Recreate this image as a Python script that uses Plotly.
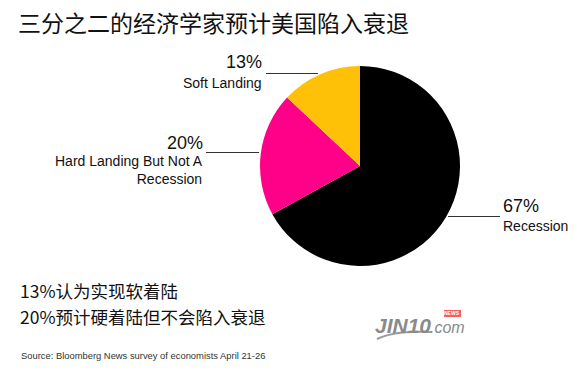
import plotly.graph_objects as go

W, H = 582, 379

categories = ["Recession", "Hard Landing But Not A Recession", "Soft Landing"]
values = [67, 20, 13]
colors = ["#000000", "#FF0088", "#FFC107"]

title_text = "三分之二的经济学家预计美国陷入衰退"
note_lines = ["13%认为实现软着陆", "20%预计硬着陆但不会陷入衰退"]
source_text = "Source: Bloomberg News survey of economists April 21-26"

def px(x):
    return x / W

def py(y):
    return 1 - y / H

fig = go.Figure(go.Pie(
    labels=categories, values=values, sort=False, direction="clockwise",
    rotation=0, marker=dict(colors=colors, line=dict(width=0)),
    textinfo="none", hoverinfo="none", showlegend=False,
    domain=dict(x=[px(260), px(460)], y=[py(266), py(66)]),
))

lab_font = "Liberation Sans, Arial, sans-serif"
cjk_font = "Noto Sans CJK SC"
ann = []

def add(text, x, y, size, xanchor="left", color="#111111", family=lab_font, yanchor="middle", align="left"):
    ann.append(dict(text=text, x=px(x), y=py(y), xref="paper", yref="paper",
                    xanchor=xanchor, yanchor=yanchor, showarrow=False, align=align,
                    font=dict(size=size, color=color, family=family)))

add(title_text, 16, 22, 23, family=cjk_font)
add(f"{values[2]}%", 264, 62, 18, xanchor="right")
add(categories[2], 264, 83, 14, xanchor="right")
add(f"{values[1]}%", 205, 143, 18, xanchor="right")
add("Hard Landing But Not A<br>Recession", 205, 170, 14, xanchor="right", align="right")
add(f"{values[0]}%", 501, 206, 18, xanchor="left")
add(categories[0], 501, 226, 14, xanchor="left")
add(note_lines[0], 18, 290.5, 17.5, family=cjk_font)
add(note_lines[1], 18, 316.5, 17.5, family=cjk_font)
add(source_text, 19, 355, 9.4, color="#333333")
add("<i><b>JIN10</b></i>", 373, 325, 21, color="#8a8a8a", family="Liberation Sans")
add("<i>.com</i>", 428, 327, 16, color="#8a8a8a", family="Liberation Sans")
add("<b>NEWS</b>", 452, 313, 5, color="#ffffff", family="Liberation Sans", xanchor="center")

shapes = [
    dict(type="line", xref="paper", yref="paper", x0=px(266), x1=px(318), y0=py(73.5), y1=py(73.5),
         line=dict(color="#333333", width=1)),
    dict(type="line", xref="paper", yref="paper", x0=px(206), x1=px(259), y0=py(152.5), y1=py(152.5),
         line=dict(color="#333333", width=1)),
    dict(type="line", xref="paper", yref="paper", x0=px(448), x1=px(500), y0=py(216.5), y1=py(216.5),
         line=dict(color="#333333", width=1)),
    dict(type="rect", xref="paper", yref="paper", x0=px(444), x1=px(461), y0=py(317), y1=py(310),
         fillcolor="#f06060", line=dict(width=0), layer="below"),
    dict(type="path", xref="paper", yref="paper",
         path=f"M {px(377)} {py(339)} Q {px(395)} {py(330)} {px(432)} {py(332)}",
         line=dict(color="#9a9a9a", width=2)),
]

fig.update_layout(width=W, height=H, margin=dict(l=0, r=0, t=0, b=0),
                  paper_bgcolor="white", plot_bgcolor="white",
                  annotations=ann, shapes=shapes)
fig.write_html("out.html", config={"displayModeBar": False},
               post_script="document.body.style.margin='0';")
